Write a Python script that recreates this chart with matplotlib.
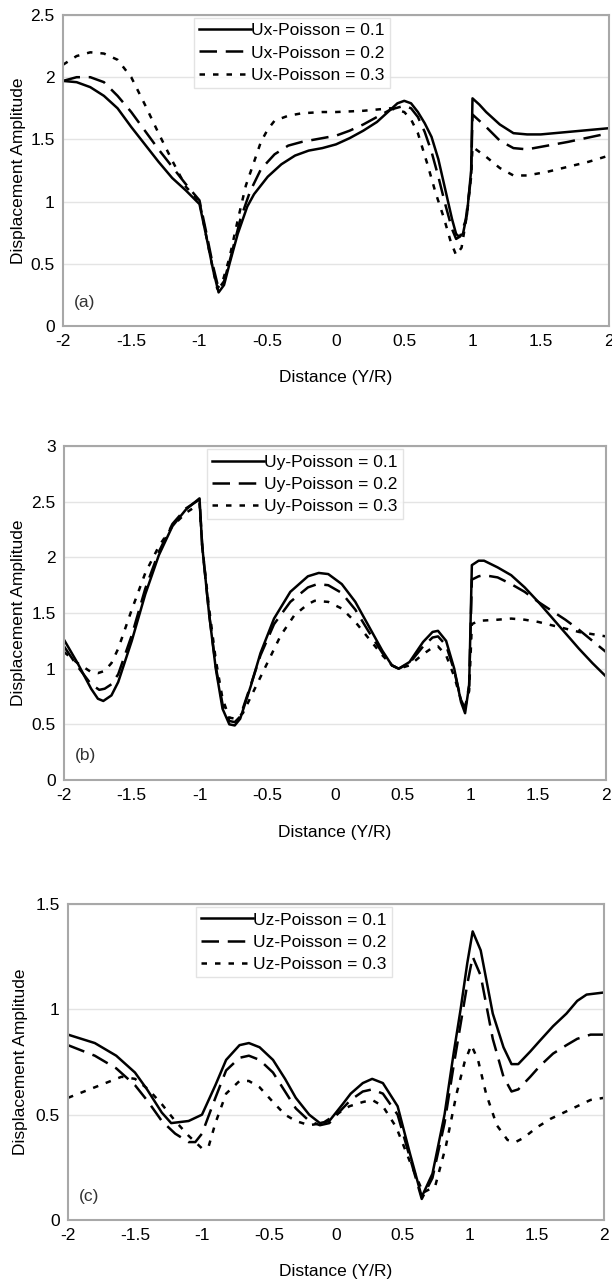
import matplotlib
matplotlib.use('Agg')
from matplotlib import pyplot as plt

plt.rcParams['font.family'] = ['Liberation Sans', 'DejaVu Sans']

# (a) Ux
xa1 = [-2, -1.9, -1.8, -1.7, -1.6, -1.5, -1.4, -1.3, -1.2, -1.1, -1.0, -0.95, -0.9, -0.86, -0.82, -0.78, -0.72, -0.65,
       -0.6, -0.5, -0.4, -0.3, -0.2, -0.1, 0, 0.1, 0.2, 0.3, 0.4, 0.45, 0.5, 0.55, 0.6, 0.65, 0.7, 0.75, 0.8, 0.85,
       0.88, 0.9, 0.93, 0.96, 0.99, 1.0, 1.05, 1.1, 1.2, 1.3, 1.4, 1.5, 1.6, 1.8, 2.0]
ya1 = [1.97, 1.96, 1.92, 1.85, 1.75, 1.6, 1.46, 1.32, 1.19, 1.09, 0.98, 0.72, 0.45, 0.27, 0.33, 0.5, 0.74, 0.96,
       1.06, 1.2, 1.3, 1.37, 1.41, 1.43, 1.46, 1.51, 1.57, 1.64, 1.74, 1.79, 1.81, 1.79, 1.72, 1.63, 1.52, 1.34, 1.1,
       0.86, 0.74, 0.72, 0.74, 0.9, 1.25, 1.83, 1.78, 1.72, 1.62, 1.55, 1.54, 1.54, 1.55, 1.57, 1.59]
xa2 = [-2, -1.9, -1.8, -1.7, -1.6, -1.5, -1.4, -1.3, -1.2, -1.1, -1.0, -0.95, -0.9, -0.86, -0.82, -0.77, -0.7, -0.63,
       -0.55, -0.45, -0.35, -0.25, -0.1, 0, 0.1, 0.2, 0.3, 0.4, 0.5, 0.55, 0.6, 0.65, 0.7, 0.75, 0.8, 0.85, 0.88, 0.91,
       0.95, 0.99, 1.0, 1.1, 1.2, 1.3, 1.4, 1.5, 1.7, 2.0]
ya2 = [1.97, 2.0, 2.0, 1.96, 1.85, 1.72, 1.57, 1.42, 1.28, 1.14, 1.01, 0.75, 0.48, 0.3, 0.36, 0.56, 0.86, 1.08,
       1.26, 1.38, 1.45, 1.48, 1.51, 1.53, 1.57, 1.62, 1.68, 1.74, 1.77, 1.75, 1.68, 1.56, 1.4, 1.2, 0.98, 0.78, 0.7,
       0.72, 0.85, 1.2, 1.7, 1.6, 1.49, 1.43, 1.42, 1.44, 1.48, 1.55]
xa3 = [-2, -1.9, -1.8, -1.7, -1.6, -1.5, -1.4, -1.3, -1.2, -1.1, -1.0, -0.95, -0.9, -0.87, -0.83, -0.78, -0.72, -0.66,
       -0.6, -0.55, -0.5, -0.45, -0.35, -0.25, -0.1, 0, 0.2, 0.4, 0.5, 0.55, 0.6, 0.67, 0.73, 0.79, 0.84, 0.88, 0.92,
       0.96, 0.99, 1.0, 1.1, 1.2, 1.3, 1.4, 1.55, 1.7, 1.85, 2.0]
ya3 = [2.1, 2.17, 2.2, 2.19, 2.14, 2.0, 1.78, 1.55, 1.33, 1.12, 1.0, 0.72, 0.45, 0.3, 0.36, 0.55, 0.85, 1.13,
       1.32, 1.48, 1.58, 1.65, 1.69, 1.71, 1.72, 1.72, 1.73, 1.75, 1.72, 1.66, 1.55, 1.3, 1.07, 0.87, 0.68, 0.57, 0.63,
       0.9, 1.2, 1.44, 1.36, 1.27, 1.21, 1.21, 1.24, 1.28, 1.32, 1.37]

# (b) Uy
xb1 = [-2, -1.9, -1.8, -1.75, -1.71, -1.65, -1.6, -1.5, -1.4, -1.3, -1.2, -1.1, -1.0, -0.98, -0.93, -0.88, -0.83,
       -0.78, -0.74, -0.7, -0.62, -0.55, -0.45, -0.33, -0.2, -0.12, -0.05, 0.05, 0.15, 0.25, 0.35, 0.42, 0.47, 0.55,
       0.65, 0.72, 0.76, 0.82, 0.88, 0.93, 0.96, 0.99, 1.01, 1.06, 1.1, 1.2, 1.3, 1.4, 1.5, 1.6, 1.7, 1.8, 1.9, 2.0]
yb1 = [1.26, 1.05, 0.82, 0.73, 0.71, 0.76, 0.88, 1.25, 1.67, 2.02, 2.28, 2.43, 2.53, 2.1, 1.5, 1.0, 0.64,
       0.5, 0.49, 0.55, 0.85, 1.14, 1.45, 1.69, 1.83, 1.86, 1.85, 1.76, 1.6, 1.38, 1.16, 1.03, 1.0, 1.06,
       1.24, 1.33, 1.34, 1.25, 1.0, 0.7, 0.6, 0.85, 1.93, 1.97, 1.97, 1.91, 1.84, 1.73, 1.6, 1.46, 1.32, 1.18, 1.05, 0.93]
xb2 = [-2, -1.9, -1.8, -1.74, -1.7, -1.65, -1.6, -1.5, -1.4, -1.3, -1.2, -1.1, -1.0, -0.98, -0.93, -0.88, -0.83,
       -0.78, -0.74, -0.7, -0.62, -0.55, -0.45, -0.33, -0.2, -0.13, -0.05, 0.05, 0.15, 0.25, 0.35, 0.42, 0.47, 0.55,
       0.65, 0.72, 0.76, 0.82, 0.88, 0.93, 0.96, 0.99, 1.01, 1.06, 1.1, 1.2, 1.3, 1.4, 1.5, 1.6, 1.7, 1.8, 1.9, 2.0]
yb2 = [1.2, 1.02, 0.86, 0.81, 0.82, 0.86, 0.95, 1.3, 1.72, 2.05, 2.3, 2.44, 2.52, 2.1, 1.5, 1.02, 0.68,
       0.53, 0.52, 0.57, 0.86, 1.12, 1.4, 1.6, 1.73, 1.76, 1.75, 1.68, 1.53, 1.33, 1.14, 1.03, 1.0, 1.05,
       1.2, 1.28, 1.29, 1.21, 0.98, 0.72, 0.64, 0.85, 1.8, 1.83, 1.84, 1.82, 1.76, 1.69, 1.6, 1.52, 1.44, 1.35, 1.25, 1.15]
xb3 = [-2, -1.9, -1.8, -1.75, -1.7, -1.65, -1.6, -1.5, -1.4, -1.3, -1.2, -1.1, -1.0, -0.98, -0.93, -0.88, -0.83,
       -0.78, -0.73, -0.68, -0.6, -0.5, -0.4, -0.3, -0.2, -0.15, -0.05, 0.05, 0.15, 0.25, 0.35, 0.42, 0.47, 0.55,
       0.65, 0.72, 0.76, 0.82, 0.88, 0.93, 0.96, 0.99, 1.01, 1.06, 1.2, 1.3, 1.4, 1.5, 1.6, 1.7, 1.8, 1.9, 2.0]
yb3 = [1.15, 1.05, 0.97, 0.96, 0.98, 1.05, 1.18, 1.53, 1.86, 2.1, 2.28, 2.4, 2.48, 2.1, 1.55, 1.08, 0.73,
       0.56, 0.55, 0.6, 0.8, 1.05, 1.3, 1.48, 1.58, 1.61, 1.6, 1.54, 1.42, 1.27, 1.12, 1.03, 1.0, 1.03,
       1.13, 1.19, 1.2, 1.12, 0.93, 0.72, 0.66, 0.8, 1.4, 1.43, 1.44, 1.45, 1.44, 1.42, 1.39, 1.36, 1.33, 1.31, 1.29]

# (c) Uz
xc1 = [-2, -1.8, -1.64, -1.5, -1.41, -1.3, -1.23, -1.1, -1.0, -0.9, -0.82, -0.72, -0.65, -0.57, -0.47, -0.38, -0.3,
       -0.2, -0.12, -0.05, 0.05, 0.11, 0.2, 0.27, 0.35, 0.46, 0.55, 0.64, 0.72, 0.81, 0.88, 0.93, 0.98, 1.02, 1.08,
       1.17, 1.25, 1.31, 1.36, 1.45, 1.52, 1.62, 1.72, 1.8, 1.87, 2.0]
yc1 = [0.88, 0.84, 0.78, 0.7, 0.62, 0.51, 0.46, 0.47, 0.5, 0.64, 0.76, 0.83, 0.84, 0.82, 0.76, 0.67, 0.58,
       0.5, 0.46, 0.47, 0.55, 0.6, 0.65, 0.67, 0.65, 0.54, 0.32, 0.11, 0.22, 0.5, 0.8, 1.0, 1.22, 1.37, 1.28,
       0.98, 0.82, 0.74, 0.74, 0.8, 0.85, 0.92, 0.98, 1.04, 1.07, 1.08]
xc2 = [-2, -1.8, -1.64, -1.5, -1.4, -1.3, -1.2, -1.1, -1.05, -1.0, -0.9, -0.82, -0.72, -0.65, -0.57, -0.47, -0.38,
       -0.3, -0.2, -0.12, -0.05, 0.05, 0.11, 0.2, 0.27, 0.35, 0.46, 0.55, 0.64, 0.72, 0.81, 0.88, 0.93, 0.98, 1.02,
       1.08, 1.17, 1.25, 1.31, 1.36, 1.45, 1.52, 1.62, 1.72, 1.8, 1.9, 2.0]
yc2 = [0.83, 0.78, 0.72, 0.64, 0.56, 0.47, 0.41, 0.37, 0.37, 0.41, 0.58, 0.71, 0.77, 0.78, 0.76, 0.7, 0.61,
       0.53, 0.47, 0.45, 0.46, 0.53, 0.57, 0.61, 0.62, 0.6, 0.5, 0.3, 0.1, 0.2, 0.46, 0.74, 0.93, 1.12, 1.25,
       1.16, 0.86, 0.68, 0.61, 0.62, 0.68, 0.73, 0.79, 0.83, 0.86, 0.88, 0.88]
xc3 = [-2, -1.8, -1.6, -1.5, -1.4, -1.3, -1.2, -1.1, -1.0, -0.95, -0.9, -0.82, -0.72, -0.65, -0.57, -0.47, -0.38,
       -0.3, -0.2, -0.1, 0.0, 0.1, 0.2, 0.27, 0.35, 0.45, 0.55, 0.65, 0.74, 0.82, 0.9, 0.96, 1.01, 1.06, 1.12, 1.2,
       1.28, 1.34, 1.4, 1.5, 1.6, 1.7, 1.8, 1.9, 2.0]
yc3 = [0.58, 0.63, 0.68, 0.67, 0.62, 0.55, 0.47, 0.4, 0.34, 0.35, 0.46, 0.6, 0.66, 0.66, 0.63, 0.56, 0.5,
       0.47, 0.45, 0.46, 0.5, 0.54, 0.56, 0.57, 0.54, 0.44, 0.28, 0.13, 0.16, 0.35, 0.6, 0.75, 0.83, 0.76, 0.6, 0.45,
       0.38, 0.37, 0.39, 0.44, 0.48, 0.51, 0.54, 0.57, 0.58]

panels = [
    ('a', 'Ux', [(xa1, ya1), (xa2, ya2), (xa3, ya3)], 2.5, [0, 0.5, 1, 1.5, 2, 2.5], ['0', '0.5', '1', '1.5', '2', '2.5']),
    ('b', 'Uy', [(xb1, yb1), (xb2, yb2), (xb3, yb3)], 3, [0, 0.5, 1, 1.5, 2, 2.5, 3], ['0', '0.5', '1', '1.5', '2', '2.5', '3']),
    ('c', 'Uz', [(xc1, yc1), (xc2, yc2), (xc3, yc3)], 1.5, [0, 0.5, 1, 1.5], ['0', '0.5', '1', '1.5']),
]
poisson = ['0.1', '0.2', '0.3']
xticks = [-2, -1.5, -1, -0.5, 0, 0.5, 1, 1.5, 2]
xtick_labels = ['-2', '-1.5', '-1', '-0.5', '0', '0.5', '1', '1.5', '2']

# 每个子图的位置 [左, 下, 宽, 高]
rects = [[0.1029, 0.7455, 0.8922, 0.2428],
         [0.1046, 0.3911, 0.8856, 0.2607],
         [0.1111, 0.0476, 0.8758, 0.2467]]
leg_x = [0.24, 0.264, 0.238]
ylab_x = [-0.068, -0.07, -0.074]
xlab_y = [-0.14, -0.135, -0.14]
styles = [dict(linestyle='-'), dict(dashes=(7, 3.5)), dict(dashes=(2.2, 3.2))]

fig = plt.figure(figsize=(6.12, 12.81), dpi=100)
for k, (tag, comp, series, ymax, yt, ytl) in enumerate(panels):
    ax = fig.add_axes(rects[k])
    for (xs, ys), st, p in zip(series, styles, poisson):
        ax.plot(xs, ys, color='black', lw=1.8, label=comp + '-Poisson = ' + p, **st)
    ax.set_xlim(-2, 2)
    ax.set_ylim(0, ymax)
    ax.set_xticks(xticks)
    ax.set_xticklabels(xtick_labels)
    ax.set_yticks(yt)
    ax.set_yticklabels(ytl)
    ax.tick_params(length=0, labelsize=12.5, pad=6)
    ax.yaxis.grid(True, color='#e4e4e4', lw=1)
    ax.set_axisbelow(True)
    for s in ax.spines.values():
        s.set_color('#a8a8a8')
        s.set_linewidth(1.5)
    ax.set_ylabel('Displacement Amplitude', fontsize=12.5)
    ax.yaxis.set_label_coords(ylab_x[k], 0.5)
    ax.set_xlabel('Distance (Y/R)', fontsize=12.5)
    ax.xaxis.set_label_coords(0.5, xlab_y[k])
    ax.text(0.02, 0.06, '(' + tag + ')', transform=ax.transAxes, fontsize=12.5, color='#333333')
    leg = ax.legend(loc='upper left', bbox_to_anchor=(leg_x[k], 0.99), fontsize=12.5, frameon=True,
                    fancybox=False, handlelength=3.0, handletextpad=0.0, borderpad=0.3, labelspacing=0.4,
                    borderaxespad=0)
    leg.get_frame().set_edgecolor('#dddddd')
    leg.get_frame().set_linewidth(1)

fig.savefig('out.png', dpi=100)
